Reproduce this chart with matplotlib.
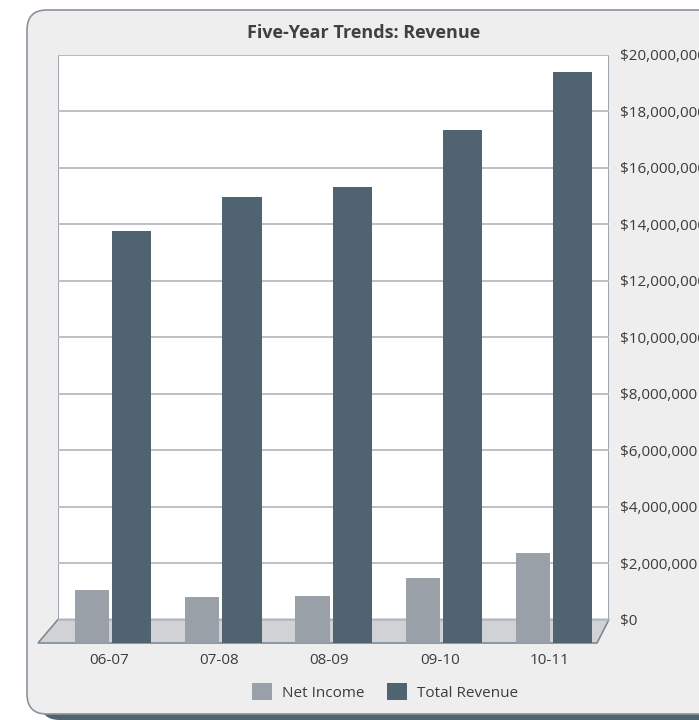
import numpy as np
import matplotlib
matplotlib.use("Agg")
import matplotlib.pyplot as plt
from matplotlib.patches import FancyBboxPatch, Rectangle, Polygon
from matplotlib.ticker import FuncFormatter
import matplotlib.transforms as mtransforms

plt.rcParams['font.family'] = ['Open Sans', 'DejaVu Sans']

# Dữ liệu
years = ["06-07", "07-08", "08-09", "09-10", "10-11"]
net_income = [1060000, 780000, 850000, 1480000, 2350000]
total_revenue = [13750000, 14980000, 15310000, 17330000, 19410000]
series_names = ["Net Income", "Total Revenue"]
y_ticks = np.arange(0, 20000001, 2000000)

W, H = 699, 720
c_net = "#9aa0a8"
c_total = "#506370"
c_text = "#3c3c3c"

def fx(x):
    return x / W

def fy(y):
    return 1 - y / H

fig = plt.figure(figsize=(W / 100, H / 100), dpi=100)
fig.patch.set_facecolor("white")

# Khung nền bo tròn + bóng
shadow = FancyBboxPatch((fx(40), fy(720)), fx(700), fy(26) - fy(720),
                        boxstyle="round,pad=0,rounding_size=0.028",
                        transform=fig.transFigure, fc=c_total, ec="none", zorder=-3)
panel = FancyBboxPatch((fx(27), fy(714)), fx(700), fy(10) - fy(714),
                       boxstyle="round,pad=0,rounding_size=0.028",
                       transform=fig.transFigure, fc="#eeeeee", ec="#8a949e", lw=1.2, zorder=-2)
fig.patches.extend([shadow, panel])

# Trục chính
top_px, back_px, front_px = 55, 619.5, 643
ax = fig.add_axes([fx(58), fy(front_px), fx(609) - fx(58), fy(top_px) - fy(front_px)])
ymax = 20000000
d = ymax * (front_px - back_px) / (back_px - top_px)
ax.set_ylim(-d, ymax)
ax.set_xlim(-0.5, 4.5)
ax.set_facecolor("none")
for s in ax.spines.values():
    s.set_visible(False)

# Tường sau
ax.add_patch(Rectangle((-0.5, 0), 5, ymax, fc="white", ec="#8a949e", lw=1.2, zorder=0.2))

# Sàn 3D
px_per_x = (609 - 58) / 5.0
floor = Polygon([(-0.5, 0), (4.5, 0),
                 (4.5 - 12 / px_per_x, -d), (-0.5 - 20 / px_per_x, -d)],
                closed=True, fc="#d0d2d6", ec="#7d8a96", lw=1.2, zorder=0.3, clip_on=False)
ax.add_patch(floor)

# Lưới
ax.set_yticks(y_ticks)
ax.yaxis.grid(True, color="#b8bcc2", lw=1.3)
ax.set_axisbelow("line")

# Cột
x = np.arange(len(years))
ax.bar(x - 0.19, np.array(net_income) + d, 0.31, bottom=-d, color=c_net, zorder=3,
       label=series_names[0])
ax.bar(x + 0.17, np.array(total_revenue) + d, 0.355, bottom=-d, color=c_total, zorder=3,
       label=series_names[1])

# Nhãn trục
ax.yaxis.tick_right()
ax.yaxis.set_major_formatter(FuncFormatter(lambda v, p: "${:,.0f}".format(v)))
ax.tick_params(axis="y", length=0, pad=8, labelsize=11, labelcolor=c_text)
ax.set_xticks(x)
ax.set_xticklabels(years)
ax.tick_params(axis="x", length=0, pad=7, labelsize=11, labelcolor=c_text)
off = mtransforms.ScaledTranslation(-4 / 100, 0, fig.dpi_scale_trans)
for lab in ax.get_xticklabels():
    lab.set_transform(lab.get_transform() + off)

# Tiêu đề
fig.text(fx(364), fy(33), "Five-Year Trends: Revenue", ha="center", va="center",
         fontsize=13, fontweight="bold", color="#404040")

# Chú thích
leg = fig.legend(loc="center", bbox_to_anchor=(fx(385), fy(692)), ncol=2, frameon=False,
                 fontsize=11, handlelength=1.3, handleheight=1.3, handletextpad=0.65,
                 columnspacing=1.5)
for t in leg.get_texts():
    t.set_color(c_text)

fig.savefig("out.png", dpi=100)
